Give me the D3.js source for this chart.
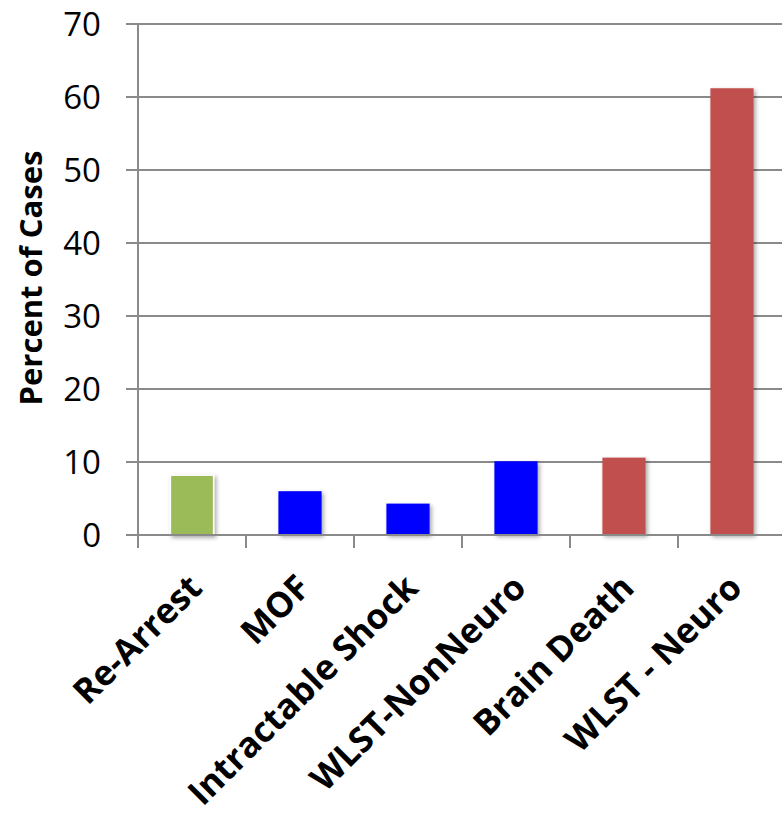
<!DOCTYPE html>
<html><head><meta charset="utf-8">
<script src="https://cdn.jsdelivr.net/npm/d3@7"></script>
<style>body{margin:0;background:#fff;}svg{display:block;}</style>
</head><body>
<script>
const categories = ["Re-Arrest","MOF","Intractable Shock","WLST-NonNeuro","Brain Death","WLST - Neuro"];
const values = [8.2, 6.0, 4.3, 10.1, 10.6, 61.2];
const barColors = ["#9BBB59","#0000FF","#0000FF","#0000FF","#C0504D","#C0504D"];
const yTicks = [0,10,20,30,40,50,60,70];
const yTitle = "Percent of Cases";

const W = 782, H = 816;
const svg = d3.select("body").append("svg").attr("width", W).attr("height", H);
const defs = svg.append("defs");
const f = defs.append("filter").attr("id","sh").attr("x","-20%").attr("y","-20%").attr("width","150%").attr("height","150%");
f.append("feDropShadow").attr("dx",2).attr("dy",2).attr("stdDeviation",2).attr("flood-color","#000").attr("flood-opacity",0.35);

const left = 138, bandW = 108;
const x = d3.scaleBand().domain(categories).range([left, left + bandW*categories.length]).paddingInner(0.6).paddingOuter(0.3);
const xb = d3.scaleBand().domain(categories).range([left, left + bandW*categories.length]);
const y = d3.scaleLinear().domain([0,70]).range([535, 24]);
const axisColor = "#8a8a8a";

// gridlines
svg.append("g").selectAll("line").data(yTicks).join("line")
  .attr("x1", 126).attr("x2", W).attr("y1", d=>y(d)).attr("y2", d=>y(d))
  .attr("stroke", axisColor).attr("stroke-width", 2);

// bars
svg.append("g").selectAll("rect").data(categories).join("rect")
  .attr("x", d=>x(d)).attr("width", x.bandwidth())
  .attr("y", (d,i)=>y(values[i])).attr("height", (d,i)=>y(0)-y(values[i]))
  .attr("fill", (d,i)=>barColors[i])
  .attr("stroke", (d,i)=> i===0 ? "#fff" : "none").attr("stroke-width", 1.5)
  .attr("filter","url(#sh)");

// y axis line
svg.append("line").attr("x1", left).attr("x2", left).attr("y1", y(70)).attr("y2", 548)
  .attr("stroke", axisColor).attr("stroke-width", 2);
// x axis baseline
svg.append("line").attr("x1", 126).attr("x2", W).attr("y1", y(0)).attr("y2", y(0))
  .attr("stroke", axisColor).attr("stroke-width", 2);
// category ticks
svg.append("g").selectAll("line").data(categories).join("line")
  .attr("x1", d=>xb(d)).attr("x2", d=>xb(d)).attr("y1", y(0)).attr("y2", 548)
  .attr("stroke", axisColor).attr("stroke-width", 2);

// y tick labels
svg.append("g").selectAll("text").data(yTicks).join("text")
  .attr("x", 101).attr("y", d=>y(d)).attr("dy","0.36em")
  .attr("text-anchor","end")
  .attr("font-family","'Open Sans', sans-serif").attr("font-size", 33)
  .attr("fill","#000").text(d=>d);

// y title
svg.append("text").attr("transform","translate(42,278) rotate(-90)")
  .attr("text-anchor","middle")
  .attr("font-family","'Open Sans', sans-serif").attr("font-weight","bold").attr("font-size", 31)
  .attr("fill","#000").text(yTitle);

// category labels
svg.append("g").selectAll("text").data(categories).join("text")
  .attr("transform", d=>`translate(${xb(d)+xb.bandwidth()/2+12},${590}) rotate(-45)`)
  .attr("text-anchor","end")
  .attr("font-family","'Open Sans', sans-serif").attr("font-weight","bold").attr("font-size", 35)
  .attr("fill","#000").text(d=>d);
</script>
</body></html>
